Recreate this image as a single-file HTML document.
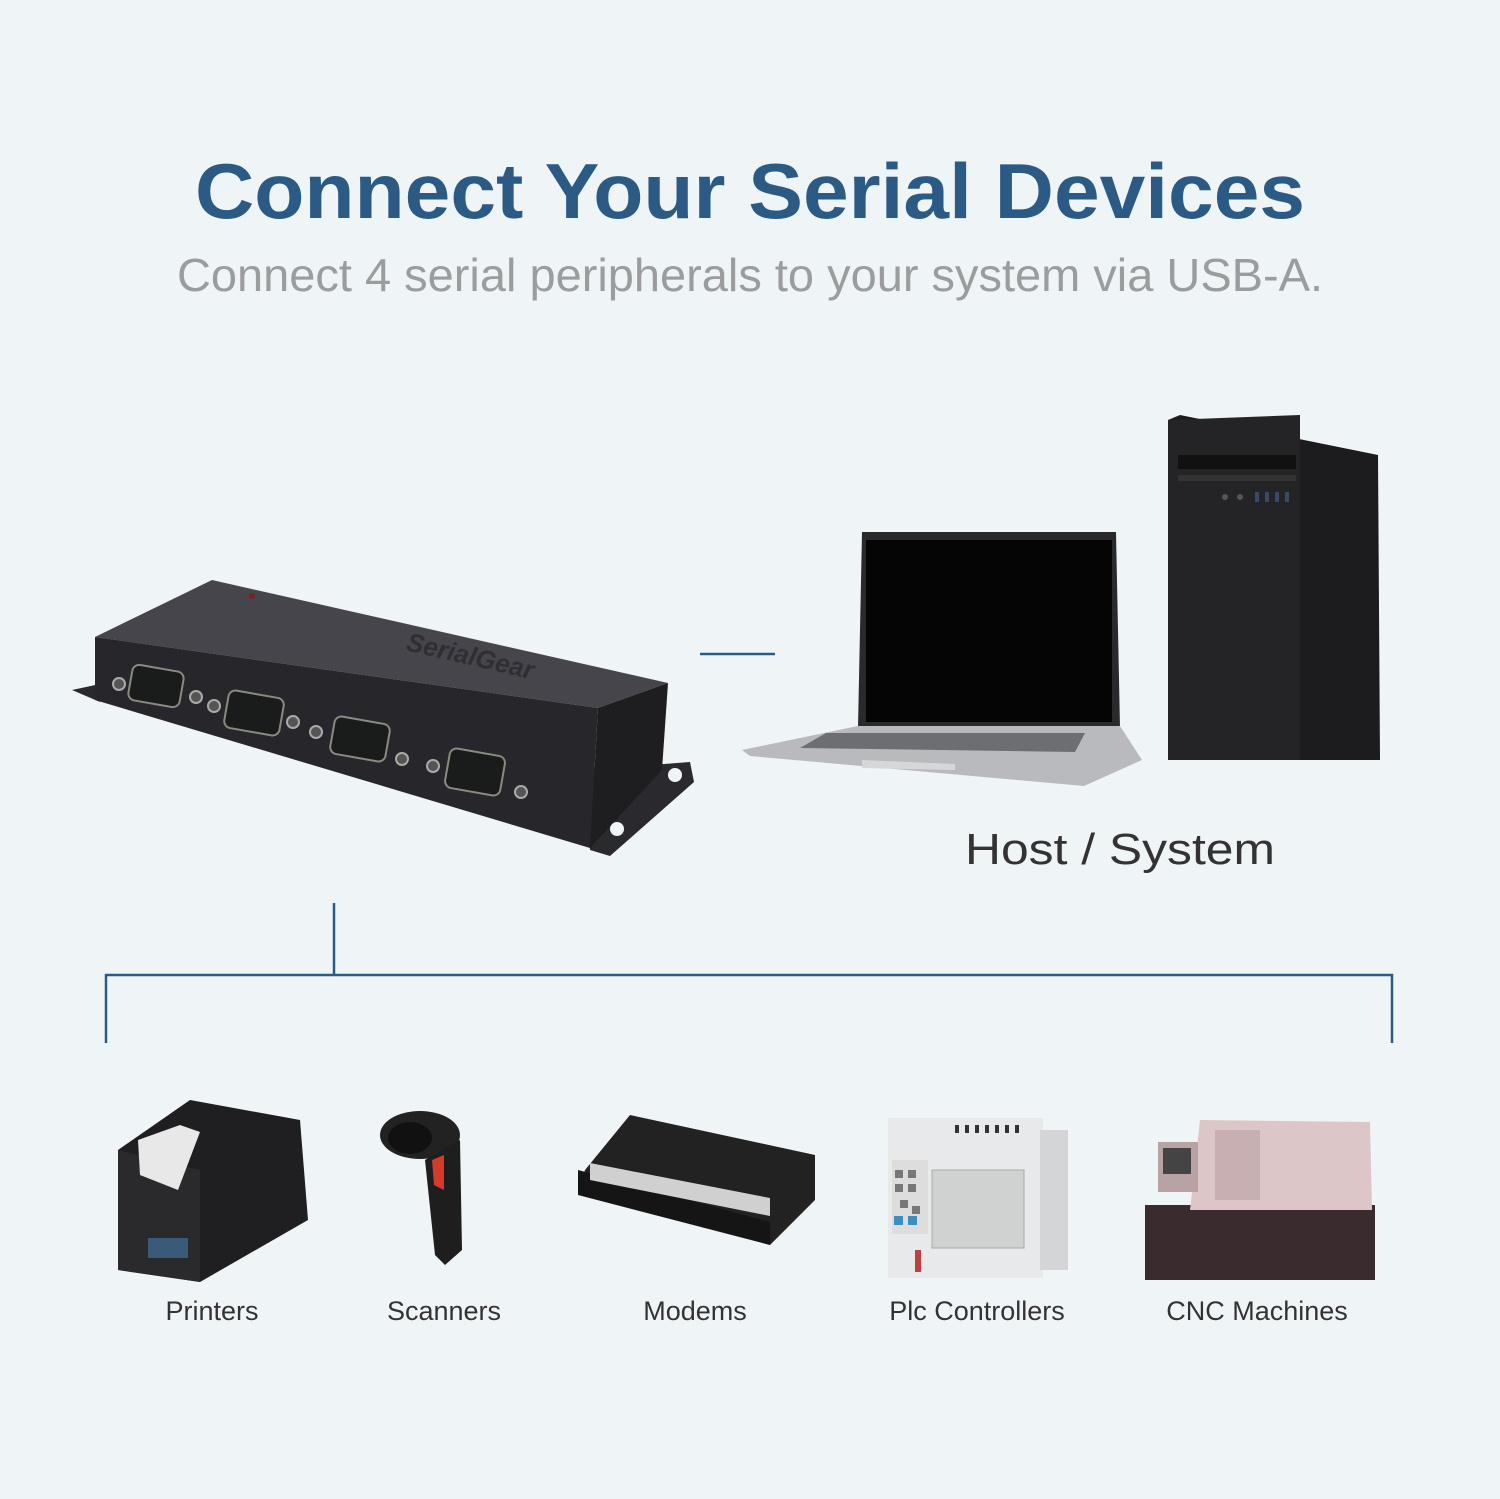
<!DOCTYPE html>
<html><head><meta charset="utf-8"><style>
html,body{margin:0;padding:0;background:#eff4f7}
svg{display:block}
</style></head><body>
<svg width="1500" height="1499" viewBox="0 0 1500 1499" xmlns="http://www.w3.org/2000/svg" font-family="Liberation Sans, sans-serif">
<rect width="1500" height="1499" fill="#eff4f7"/>
<text x="750" y="218" text-anchor="middle" font-size="78" font-weight="bold" fill="#2b5b84" textLength="1110" lengthAdjust="spacingAndGlyphs">Connect Your Serial Devices</text>
<text x="750" y="291" text-anchor="middle" font-size="46" fill="#9a9c9e" textLength="1146" lengthAdjust="spacingAndGlyphs">Connect 4 serial peripherals to your system via USB-A.</text>

<!-- hub -->
<polygon points="72,690 100,684 100,702" fill="#2a2a2e"/>
<polygon points="585,770 690,762 694,782 610,856 590,850" fill="#2a2a2e"/>
<circle cx="675" cy="775" r="7" fill="#eff4f7"/><circle cx="617" cy="829" r="7" fill="#eff4f7"/>
<polygon points="95,637 212,580 668,683 598,708" fill="#45454b"/>
<polygon points="95,637 598,708 590,848 95,700" fill="#27272b"/>
<polygon points="598,708 668,683 662,770 590,848" fill="#1e1e21"/>
<circle cx="252" cy="596" r="3" fill="#802020"/>
<text x="405" y="650" font-size="26" font-style="italic" font-weight="bold" fill="#2f2f33" transform="rotate(13 405 650)">SerialGear</text>
<g fill="#1a1c1c" stroke="#8a8a80" stroke-width="2">
<rect x="130" y="668" width="52" height="36" rx="7" transform="rotate(10 156 686)"/>
<rect x="226" y="694" width="56" height="38" rx="7" transform="rotate(10 254 713)"/>
<rect x="332" y="720" width="56" height="38" rx="7" transform="rotate(10 360 739)"/>
<rect x="447" y="752" width="56" height="40" rx="7" transform="rotate(10 475 772)"/>
</g>
<g fill="#555" stroke="#aaa" stroke-width="2">
<circle cx="119" cy="684" r="6"/><circle cx="196" cy="697" r="6"/>
<circle cx="214" cy="706" r="6"/><circle cx="293" cy="722" r="6"/>
<circle cx="316" cy="732" r="6"/><circle cx="402" cy="759" r="6"/>
<circle cx="433" cy="766" r="6"/><circle cx="521" cy="792" r="6"/>
</g>

<line x1="700" y1="654" x2="775" y2="654" stroke="#2b5b84" stroke-width="2.5"/>

<!-- laptop -->
<polygon points="862,532 1116,532 1120,728 858,728" fill="#2a2a2c"/>
<rect x="866" y="540" width="246" height="182" fill="#050505"/>
<polygon points="858,726 1120,726 1142,760 1084,786 750,756 742,750" fill="#b9babd"/>
<polygon points="826,733 1085,733 1075,752 800,748" fill="#6d6e72"/>
<polygon points="862,760 955,764 955,770 862,768" fill="#d6d7d9"/>

<!-- tower -->
<polygon points="1168,420 1180,415 1378,455 1380,760 1168,760" fill="#1c1c1e"/>
<polygon points="1168,420 1300,415 1300,760 1168,760" fill="#242426"/>
<rect x="1178" y="455" width="118" height="14" fill="#111"/>
<rect x="1178" y="475" width="118" height="6" fill="#333"/>
<g fill="#3a4a66"><rect x="1255" y="492" width="4" height="10"/><rect x="1265" y="492" width="4" height="10"/><rect x="1275" y="492" width="4" height="10"/><rect x="1285" y="492" width="4" height="10"/></g>
<circle cx="1225" cy="497" r="3" fill="#555"/><circle cx="1240" cy="497" r="3" fill="#555"/>

<text x="1120" y="864" text-anchor="middle" font-size="44" fill="#333" textLength="310" lengthAdjust="spacingAndGlyphs">Host / System</text>

<!-- tree -->
<g stroke="#2b5b84" stroke-width="2.5" fill="none">
<line x1="334" y1="903" x2="334" y2="975"/>
<line x1="105" y1="975" x2="1393" y2="975"/>
<line x1="106" y1="974" x2="106" y2="1043"/>
<line x1="1392" y1="974" x2="1392" y2="1043"/>
</g>

<!-- printer -->
<polygon points="118,1150 190,1100 300,1120 308,1220 200,1282 118,1270" fill="#1f1f21"/>
<polygon points="118,1150 200,1170 200,1282 118,1270" fill="#2a2a2d"/>
<polygon points="138,1140 180,1125 200,1132 178,1190 140,1175" fill="#e8e8e8"/>
<rect x="148" y="1238" width="40" height="20" fill="#3a5a7a"/>
<!-- scanner -->
<ellipse cx="420" cy="1135" rx="40" ry="24" fill="#222"/>
<ellipse cx="410" cy="1138" rx="22" ry="16" fill="#111"/>
<polygon points="425,1160 460,1140 462,1250 445,1265 435,1255" fill="#1e1e1e"/>
<polygon points="432,1160 444,1155 444,1190 434,1185" fill="#d63a2a"/>
<!-- modem -->
<polygon points="585,1170 630,1115 815,1155 815,1200 770,1245 578,1190" fill="#222"/>
<polygon points="578,1170 770,1222 770,1245 578,1195" fill="#151515"/>
<polygon points="590,1163 770,1198 770,1216 590,1180" fill="#d0d0d0"/>
<!-- plc -->
<rect x="888" y="1118" width="155" height="160" fill="#e8e9ea"/>
<rect x="1040" y="1130" width="28" height="140" fill="#d4d5d7"/>
<rect x="932" y="1170" width="92" height="78" fill="#cfd2d0" stroke="#aaa"/>
<rect x="892" y="1160" width="36" height="74" fill="#ddd"/>
<g fill="#777"><rect x="895" y="1170" width="8" height="8"/><rect x="908" y="1170" width="8" height="8"/><rect x="895" y="1184" width="8" height="8"/><rect x="908" y="1184" width="8" height="8"/><rect x="900" y="1200" width="8" height="8"/><rect x="912" y="1206" width="8" height="8"/></g>
<rect x="894" y="1216" width="9" height="9" fill="#3a8ec0"/><rect x="908" y="1216" width="9" height="9" fill="#3a8ec0"/>
<g fill="#333"><rect x="955" y="1125" width="4" height="8"/><rect x="965" y="1125" width="4" height="8"/><rect x="975" y="1125" width="4" height="8"/><rect x="985" y="1125" width="4" height="8"/><rect x="995" y="1125" width="4" height="8"/><rect x="1005" y="1125" width="4" height="8"/><rect x="1015" y="1125" width="4" height="8"/></g>
<rect x="915" y="1250" width="6" height="22" fill="#c04040"/>
<!-- cnc -->
<rect x="1145" y="1205" width="230" height="75" fill="#3a2c2e"/>
<polygon points="1200,1120 1370,1122 1372,1210 1190,1210" fill="#dcc6c8"/>
<rect x="1158" y="1142" width="40" height="50" fill="#b8a2a4"/>
<rect x="1163" y="1148" width="28" height="26" fill="#444"/>
<rect x="1215" y="1130" width="45" height="70" fill="#c8b0b2"/>

<g font-size="27" fill="#333" text-anchor="middle">
<text x="212" y="1320">Printers</text>
<text x="444" y="1320">Scanners</text>
<text x="695" y="1320">Modems</text>
<text x="977" y="1320">Plc Controllers</text>
<text x="1257" y="1320">CNC Machines</text>
</g>
</svg>
</body></html>
